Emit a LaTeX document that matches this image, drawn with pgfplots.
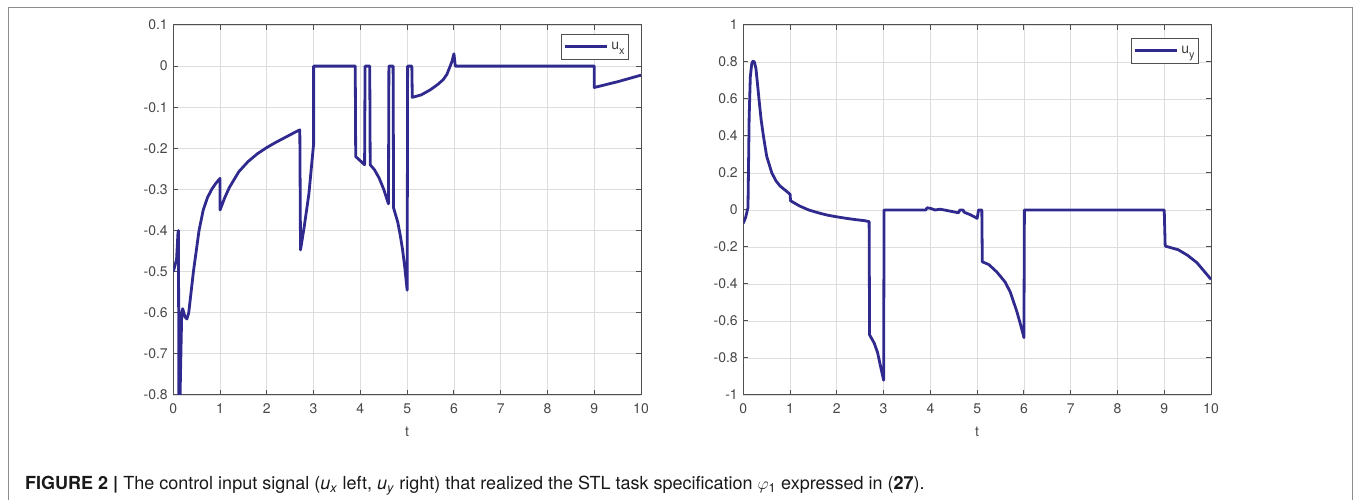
\documentclass[border=0pt]{standalone}
\usepackage{fontspec}
\setmainfont{TeX Gyre Heros}
\usepackage{pgfplots}
\pgfplotsset{compat=1.18}
\definecolor{lc}{RGB}{48,42,142}
\definecolor{axc}{RGB}{80,80,80}
\newcommand{\lsub}[1]{\raisebox{-5pt}{\fontsize{11}{12}\selectfont #1}}
\pgfplotsset{
  mystyle/.style={
    scale only axis, width=467.7pt, height=370pt,
    xmin=0, xmax=10, xtick={0,1,...,10},
    grid=major, major grid style={line width=0.8pt, draw=black!13},
    axis line style={line width=1pt, draw=axc},
    tick align=inside, major tick length=5pt,
    tick style={line width=1pt, draw=axc},
    every tick label/.append style={font=\fontsize{14}{16}\selectfont, text=black!72},
    /pgf/number format/assume math mode=true,
    scaled y ticks=false,
    yticklabel style={/pgf/number format/fixed},
    xticklabel style={yshift=-5pt},
    yticklabel style={xshift=-2pt},
    xlabel={t},
    xlabel style={font=\fontsize{14}{16}\selectfont, text=black!72, at={(axis description cs:0.5,0)}, anchor=center, yshift=-37pt},
    legend image code/.code={\draw[lc, line width=2.8pt] (0pt,0pt) -- (42pt,0pt);},
    legend style={draw=axc, line width=0.8pt, fill=white, font=\fontsize{14}{16}\selectfont, text=black!75,
      inner xsep=2pt, inner ysep=6pt, column sep=1pt, cells={anchor=west}},
  }
}
\begin{document}
\begin{tikzpicture}[x=1pt,y=1pt]
\path[use as bounding box] (0,0) rectangle (1356,500);
\draw[black!45, line width=0.9pt] (8,0) -- (8,493) -- (1352.5,493) -- (1352.5,0);
\begin{axis}[mystyle, at={(173.3pt,105pt)}, anchor=south west,
  ymin=-0.8, ymax=0.1, ytick={-0.8,-0.7,...,0.1},
  legend style={at={(1,1)}, anchor=north east, xshift=-12pt, yshift=-9pt}]
\addplot[lc, line width=2.8pt, line join=round] coordinates {
(0,-0.50) (0.07,-0.47) (0.10,-0.405) (0.11,-0.40) (0.12,-0.83) (0.14,-0.83)
(0.18,-0.60) (0.20,-0.59) (0.25,-0.61) (0.29,-0.615) (0.33,-0.60) (0.38,-0.55)
(0.43,-0.50) (0.55,-0.40) (0.64,-0.35) (0.73,-0.32) (0.82,-0.30) (0.91,-0.285) (1.0,-0.273)
(1.0,-0.35) (1.1,-0.32) (1.2,-0.295) (1.4,-0.257) (1.6,-0.232) (1.8,-0.213) (2.0,-0.198)
(2.2,-0.185) (2.4,-0.173) (2.6,-0.161) (2.705,-0.155)
(2.72,-0.447) (2.8,-0.39) (2.9,-0.31) (2.97,-0.225) (3.0,-0.19) (3.0,0)
(3.89,0) (3.9,-0.22) (4.09,-0.24) (4.1,0) (4.2,0) (4.21,-0.24) (4.3,-0.252)
(4.4,-0.272) (4.5,-0.30) (4.6,-0.335) (4.61,0) (4.7,0) (4.71,-0.345) (4.8,-0.38)
(4.85,-0.41) (4.9,-0.445) (4.95,-0.49) (5.0,-0.545) (5.01,0) (5.1,0) (5.11,-0.076)
(5.3,-0.07) (5.49,-0.058) (5.65,-0.045) (5.77,-0.033) (5.85,-0.02) (5.92,0) (5.96,0.012) (6.0,0.03)
(6.03,0) (9.0,0) (9.0,-0.052) (9.5,-0.038) (10,-0.022)
};
\addlegendentry{u\lsub{x}}
\end{axis}
\begin{axis}[mystyle, at={(743.3pt,105pt)}, anchor=south west,
  ymin=-1, ymax=1, ytick={-1,-0.8,...,1},
  legend style={at={(1,1)}, anchor=north east, xshift=-12pt, yshift=-12.7pt}]
\addplot[lc, line width=2.8pt, line join=round] coordinates {
(0,-0.072) (0.05,-0.04) (0.1,0.013) (0.11,0.2) (0.125,0.5) (0.15,0.72) (0.18,0.79)
(0.20,0.802) (0.22,0.805) (0.24,0.797) (0.27,0.765) (0.30,0.69) (0.335,0.6) (0.38,0.49) (0.43,0.4) (0.5,0.29)
(0.61,0.2) (0.7,0.157) (0.785,0.13) (0.93,0.1) (1.0,0.085) (1.01,0.05)
(1.2,0.022) (1.4,0.0) (1.6,-0.015) (1.8,-0.028) (2.0,-0.037) (2.2,-0.045)
(2.4,-0.052) (2.6,-0.058) (2.69,-0.063) (2.7,-0.675) (2.8,-0.72) (2.87,-0.77)
(2.93,-0.84) (3.0,-0.92) (3.01,0) (3.9,0) (3.93,0.012) (4.0,0.009) (4.1,0.0)
(4.2,0.004) (4.3,0) (4.4,-0.005) (4.6,-0.015) (4.63,0) (4.7,0.0) (4.72,-0.012)
(4.85,-0.025) (5.0,-0.045) (5.03,0) (5.1,0) (5.11,-0.28) (5.25,-0.295) (5.42,-0.335)
(5.6,-0.39) (5.71,-0.445) (5.85,-0.55) (5.95,-0.64) (6.0,-0.69) (6.01,0) (9.0,0)
(9.02,-0.195) (9.3,-0.215) (9.5,-0.245) (9.7,-0.285) (9.85,-0.33) (10,-0.375)
};
\addlegendentry{u\lsub{y}}
\end{axis}
\node[anchor=base west, inner sep=0pt, font=\fontsize{18}{20}\selectfont, text=black!90] at (25,10)
 {\textbf{FIGURE 2 |} The control input signal (\textit{u}\textsubscript{\textit{x}} left, \textit{u}\textsubscript{\textit{y}} right) that realized the STL task specification $\varphi$\textsubscript{1} expressed in (\textbf{27}).};
\end{tikzpicture}
\end{document}
